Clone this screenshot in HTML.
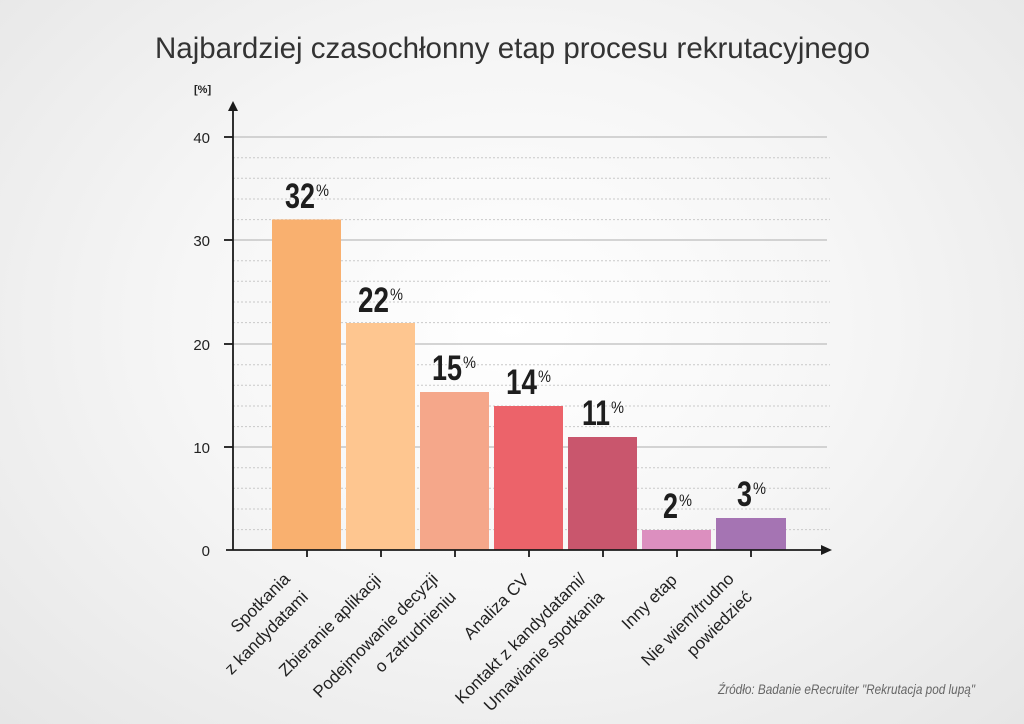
<!DOCTYPE html>
<html><head><meta charset="utf-8"><style>
html,body{margin:0;padding:0;}
body{width:1024px;height:724px;background:radial-gradient(ellipse at 50% 45%,#ffffff 0%,#f6f6f6 45%,#e6e6e6 100%);overflow:hidden;}
svg{position:absolute;left:0;top:0;}
.v{font-family:"Liberation Sans",sans-serif;font-weight:bold;font-size:35px;fill:#1e1e1e;}
.p{font-family:"Liberation Sans",sans-serif;font-size:17px;fill:#1e1e1e;}
.l{font-family:"Liberation Sans",sans-serif;font-size:17px;fill:#222;}
</style></head><body>
<svg width="1024" height="724" viewBox="0 0 1024 724">
<text x="155" y="58" textLength="715" lengthAdjust="spacingAndGlyphs" font-family="Liberation Sans, sans-serif" font-size="30" fill="#333">Najbardziej czasochłonny etap procesu rekrutacyjnego</text>
<g stroke="#c9c9c9" stroke-width="1" stroke-dasharray="2,2">
<line x1="233" x2="830" y1="157.7" y2="157.7"/><line x1="233" x2="830" y1="178.3" y2="178.3"/><line x1="233" x2="830" y1="199" y2="199"/><line x1="233" x2="830" y1="219.6" y2="219.6"/>
<line x1="233" x2="830" y1="260.7" y2="260.7"/><line x1="233" x2="830" y1="281.3" y2="281.3"/><line x1="233" x2="830" y1="302" y2="302"/><line x1="233" x2="830" y1="322.6" y2="322.6"/>
<line x1="233" x2="830" y1="364.7" y2="364.7"/><line x1="233" x2="830" y1="385.3" y2="385.3"/><line x1="233" x2="830" y1="406" y2="406"/><line x1="233" x2="830" y1="426.6" y2="426.6"/>
<line x1="233" x2="830" y1="467.7" y2="467.7"/><line x1="233" x2="830" y1="488.3" y2="488.3"/><line x1="233" x2="830" y1="509" y2="509"/><line x1="233" x2="830" y1="529.6" y2="529.6"/>
</g>
<g stroke="#bdbdbd" stroke-width="1.2">
<line x1="233" x2="827" y1="137" y2="137"/><line x1="233" x2="827" y1="240" y2="240"/><line x1="233" x2="827" y1="344" y2="344"/><line x1="233" x2="827" y1="447" y2="447"/>
</g>
<rect x="272" y="219.5" width="69" height="330.5" fill="#f9b06f"/>
<rect x="346" y="323" width="69" height="227" fill="#fec690"/>
<rect x="420" y="392" width="69" height="158" fill="#f5a78a"/>
<rect x="494" y="406" width="69" height="144" fill="#ec636a"/>
<rect x="568" y="437" width="69" height="113" fill="#c9566d"/>
<rect x="642" y="530" width="69" height="20" fill="#dc8fbf"/>
<rect x="716" y="518" width="70" height="32" fill="#a574b3"/>
<g stroke="#1a1a1a" stroke-width="1.8" fill="none">
<line x1="233" y1="550" x2="233" y2="108"/>
<line x1="226" y1="550" x2="822" y2="550"/>
<line x1="224" y1="137" x2="233" y2="137"/><line x1="224" y1="240" x2="233" y2="240"/><line x1="224" y1="344" x2="233" y2="344"/><line x1="224" y1="447" x2="233" y2="447"/>
<line x1="307" y1="550" x2="307" y2="557"/><line x1="381" y1="550" x2="381" y2="557"/><line x1="455" y1="550" x2="455" y2="557"/><line x1="529" y1="550" x2="529" y2="557"/><line x1="603" y1="550" x2="603" y2="557"/><line x1="677" y1="550" x2="677" y2="557"/><line x1="751" y1="550" x2="751" y2="557"/>
</g>
<polygon points="233,101 228,111 238,111" fill="#1a1a1a"/>
<polygon points="832,550 821,545 821,555" fill="#1a1a1a"/>
<g font-family="Liberation Sans, sans-serif" font-size="15" fill="#222" text-anchor="end">
<text x="210" y="143">40</text><text x="210" y="246">30</text><text x="210" y="350">20</text><text x="210" y="453">10</text><text x="210" y="556">0</text>
</g>
<text x="194" y="93" font-family="Liberation Sans, sans-serif" font-size="11" font-weight="bold" fill="#222">[%]</text>
<text class="v" x="285" y="208" textLength="30" lengthAdjust="spacingAndGlyphs">32</text><text class="p" x="316" y="196" textLength="13" lengthAdjust="spacingAndGlyphs">%</text>
<text class="v" x="358" y="312" textLength="31" lengthAdjust="spacingAndGlyphs">22</text><text class="p" x="390" y="300" textLength="13" lengthAdjust="spacingAndGlyphs">%</text>
<text class="v" x="432" y="380" textLength="30" lengthAdjust="spacingAndGlyphs">15</text><text class="p" x="463" y="368" textLength="13" lengthAdjust="spacingAndGlyphs">%</text>
<text class="v" x="506" y="394" textLength="31" lengthAdjust="spacingAndGlyphs">14</text><text class="p" x="538" y="382" textLength="13" lengthAdjust="spacingAndGlyphs">%</text>
<text class="v" x="582" y="425" textLength="28" lengthAdjust="spacingAndGlyphs">11</text><text class="p" x="611" y="413" textLength="13" lengthAdjust="spacingAndGlyphs">%</text>
<text class="v" x="663" y="518" textLength="15" lengthAdjust="spacingAndGlyphs">2</text><text class="p" x="679" y="506" textLength="13" lengthAdjust="spacingAndGlyphs">%</text>
<text class="v" x="737" y="506" textLength="15" lengthAdjust="spacingAndGlyphs">3</text><text class="p" x="753" y="494" textLength="13" lengthAdjust="spacingAndGlyphs">%</text>
<g text-anchor="end">
<g transform="translate(309,598) rotate(-45)"><text class="l" y="-25.5">Spotkania</text><text class="l" y="0">z kandydatami</text></g>
<g transform="translate(382,581) rotate(-45)"><text class="l" y="0">Zbieranie aplikacji</text></g>
<g transform="translate(457,598) rotate(-45)"><text class="l" y="-25.5">Podejmowanie decyzji</text><text class="l" y="0">o zatrudnieniu</text></g>
<g transform="translate(530,581) rotate(-45)"><text class="l" y="0">Analiza CV</text></g>
<g transform="translate(605,598) rotate(-45)"><text class="l" y="-25.5">Kontakt z kandydatami/</text><text class="l" y="0">Umawianie spotkania</text></g>
<g transform="translate(678,581) rotate(-45)"><text class="l" y="0">Inny etap</text></g>
<g transform="translate(753,598) rotate(-45)"><text class="l" y="-25.5">Nie wiem/trudno</text><text class="l" y="0">powiedzieć</text></g>
</g>
<text x="718" y="694" textLength="257" lengthAdjust="spacingAndGlyphs" font-family="Liberation Sans, sans-serif" font-style="italic" font-size="14" fill="#666">Źródło: Badanie eRecruiter "Rekrutacja pod lupą"</text>
</svg>
</body></html>
